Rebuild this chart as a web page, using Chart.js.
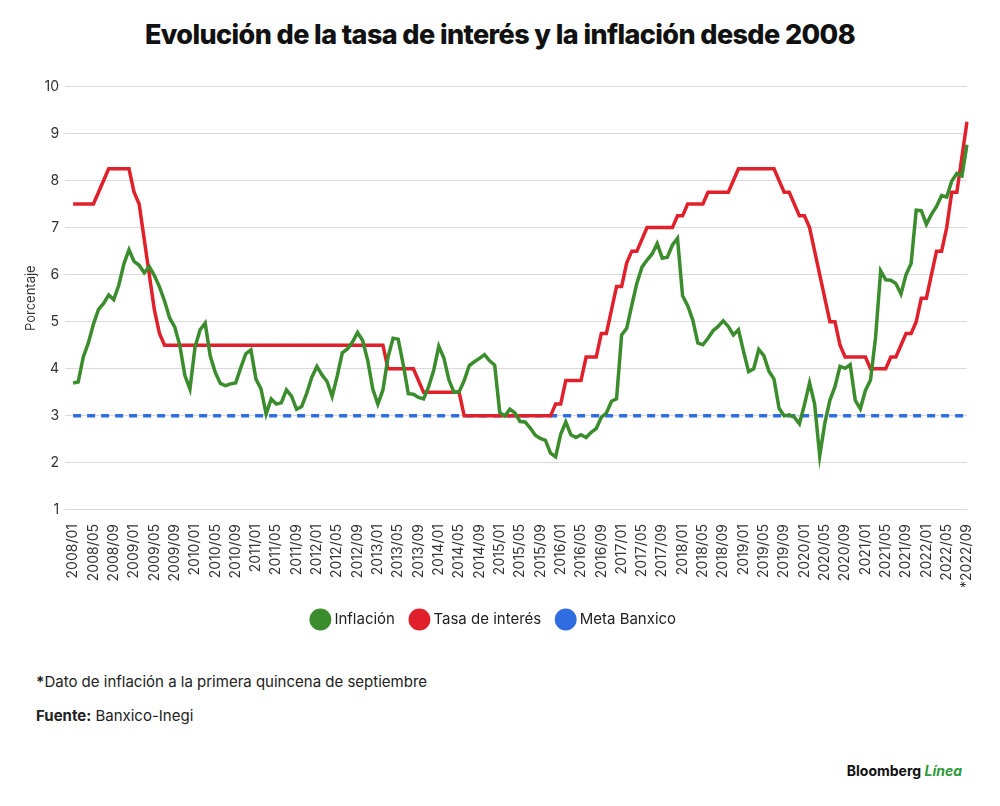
<!DOCTYPE html>
<html>
<head>
<meta charset="utf-8">
<script src="https://cdn.jsdelivr.net/npm/chart.js@4"></script>
<style>
  body { margin: 0; background: #fff; font-family: Inter, 'Noto Sans', sans-serif; width: 1000px; height: 806px; position: relative; overflow: hidden; }
  h1 { position: absolute; top: 18px; left: 0; width: 1000px; text-align: center; margin: 0; font-size: 27px; font-weight: 800; color: #111; letter-spacing: -0.6px; }
  #wrap { position: absolute; left: 0; top: 72px; width: 1000px; height: 565px; }
  .note { position: absolute; left: 36px; font-size: 15px; color: #222; }
  .brand { position: absolute; right: 38px; top: 762px; font-size: 14px; font-weight: 700; color: #111; }
  .brand span { color: #2e9a3a; font-style: italic; }
</style>
</head>
<body>
<h1>Evolución de la tasa de interés y la inflación desde 2008</h1>
<div id="wrap"><canvas id="chart"></canvas></div>
<div class="note" style="top:672px"><b>*</b>Dato de inflación a la primera quincena de septiembre</div>
<div class="note" style="top:706px"><b>Fuente:</b> Banxico-Inegi</div>
<div class="brand">Bloomberg <span>Línea</span></div>
<script>
// Inflación anual (%), mensual 2008/01 – 2022/09
const INFLACION = [
  3.70,3.72,4.25,4.55,4.95,5.26,5.39,5.57,5.47,5.78,6.23,6.53,
  6.28,6.20,6.04,6.17,5.98,5.74,5.44,5.08,4.89,4.50,3.86,3.57,
  4.46,4.83,4.97,4.27,3.92,3.69,3.64,3.68,3.70,4.02,4.32,4.40,
  3.78,3.57,3.04,3.36,3.25,3.28,3.55,3.42,3.14,3.20,3.48,3.82,
  4.05,3.87,3.73,3.41,3.85,4.34,4.42,4.57,4.77,4.60,4.18,3.57,
  3.25,3.55,4.25,4.65,4.63,4.09,3.47,3.46,3.39,3.36,3.62,3.97,
  4.48,4.23,3.76,3.50,3.51,3.75,4.07,4.15,4.22,4.30,4.17,4.08,
  3.07,3.00,3.14,3.06,2.88,2.87,2.74,2.59,2.52,2.48,2.21,2.13,
  2.61,2.87,2.60,2.54,2.60,2.54,2.65,2.73,2.97,3.06,3.31,3.36,
  4.72,4.86,5.35,5.82,6.16,6.31,6.44,6.66,6.35,6.37,6.63,6.77,
  5.55,5.34,5.04,4.55,4.51,4.65,4.81,4.90,5.02,4.90,4.72,4.83,
  4.37,3.94,4.00,4.41,4.28,3.95,3.78,3.16,3.00,3.02,2.97,2.83,
  3.24,3.70,3.25,2.15,2.84,3.33,3.62,4.05,4.01,4.09,3.33,3.15,
  3.54,3.76,4.67,6.08,5.89,5.88,5.81,5.59,6.00,6.24,7.37,7.36,
  7.07,7.28,7.45,7.68,7.65,7.99,8.15,8.10,8.76
];

// Tasa objetivo Banxico (%)
const TASA = [
  7.5,7.5,7.5,7.5,7.5,7.75,8,8.25,8.25,8.25,8.25,8.25,
  7.75,7.5,6.75,6,5.25,4.75,4.5,4.5,4.5,4.5,4.5,4.5,
  4.5,4.5,4.5,4.5,4.5,4.5,4.5,4.5,4.5,4.5,4.5,4.5,
  4.5,4.5,4.5,4.5,4.5,4.5,4.5,4.5,4.5,4.5,4.5,4.5,
  4.5,4.5,4.5,4.5,4.5,4.5,4.5,4.5,4.5,4.5,4.5,4.5,
  4.5,4.5,4,4,4,4,4,4,3.75,3.5,3.5,3.5,
  3.5,3.5,3.5,3.5,3.5,3,3,3,3,3,3,3,
  3,3,3,3,3,3,3,3,3,3,3,3.25,
  3.25,3.75,3.75,3.75,3.75,4.25,4.25,4.25,4.75,4.75,5.25,5.75,
  5.75,6.25,6.5,6.5,6.75,7,7,7,7,7,7,7.25,
  7.25,7.5,7.5,7.5,7.5,7.75,7.75,7.75,7.75,7.75,8,8.25,
  8.25,8.25,8.25,8.25,8.25,8.25,8.25,8,7.75,7.75,7.5,7.25,
  7.25,7,6.5,6,5.5,5,5,4.5,4.25,4.25,4.25,4.25,
  4.25,4,4,4,4,4.25,4.25,4.5,4.75,4.75,5,5.5,
  5.5,6,6.5,6.5,7,7.75,7.75,8.5,9.25
];

const META_BANXICO = 3;
const START_YEAR = 2008;

const labels = INFLACION.map((_, i) => {
  const y = START_YEAR + Math.floor(i / 12);
  const m = String(i % 12 + 1).padStart(2, '0');
  const s = `${y}/${m}`;
  return i === INFLACION.length - 1 ? '*' + s : s;
});

const FONT = "Inter, 'Noto Sans', sans-serif";

new Chart(document.getElementById('chart'), {
  type: 'line',
  data: {
    labels,
    datasets: [
      { label: 'Inflación', data: INFLACION, borderColor: '#3a8c2c', backgroundColor: '#3a8c2c', borderWidth: 3.5, pointRadius: 0, tension: 0 },
      { label: 'Tasa de interés', data: TASA, borderColor: '#e0212b', backgroundColor: '#e0212b', borderWidth: 3.5, pointRadius: 0, tension: 0 },
      { label: 'Meta Banxico', data: labels.map(() => META_BANXICO), borderColor: '#2f6de0', backgroundColor: '#2f6de0', borderWidth: 3.5, borderDash: [8, 6], pointRadius: 0 },
    ],
  },
  options: {
    responsive: true,
    maintainAspectRatio: false,
    animation: false,
    layout: { padding: { left: 23, right: 33, top: 5 } },
    plugins: {
      legend: {
        position: 'bottom',
        labels: { usePointStyle: true, pointStyle: 'circle', boxWidth: 13, boxHeight: 13, padding: 18, color: '#222', font: { family: FONT, size: 15 } },
      },
      tooltip: { enabled: false },
    },
    scales: {
      x: {
        grid: { display: false },
        border: { display: false },
        ticks: {
          autoSkip: false, maxRotation: 90, minRotation: 90, padding: 6,
          color: '#333', font: { family: FONT, size: 14 },
          callback: (v, i) => (i % 4 === 0 || i === labels.length - 1) ? labels[i] : '',
        },
      },
      y: {
        min: 1, max: 10,
        border: { display: false },
        grid: { color: '#d9d9d9' },
        title: { display: true, text: 'Porcentaje', color: '#333', padding: 0, font: { family: FONT, size: 13 } },
        ticks: { stepSize: 1, color: '#333', padding: 6, font: { family: FONT, size: 14 } },
      },
    },
  },
});
</script>
</body>
</html>
